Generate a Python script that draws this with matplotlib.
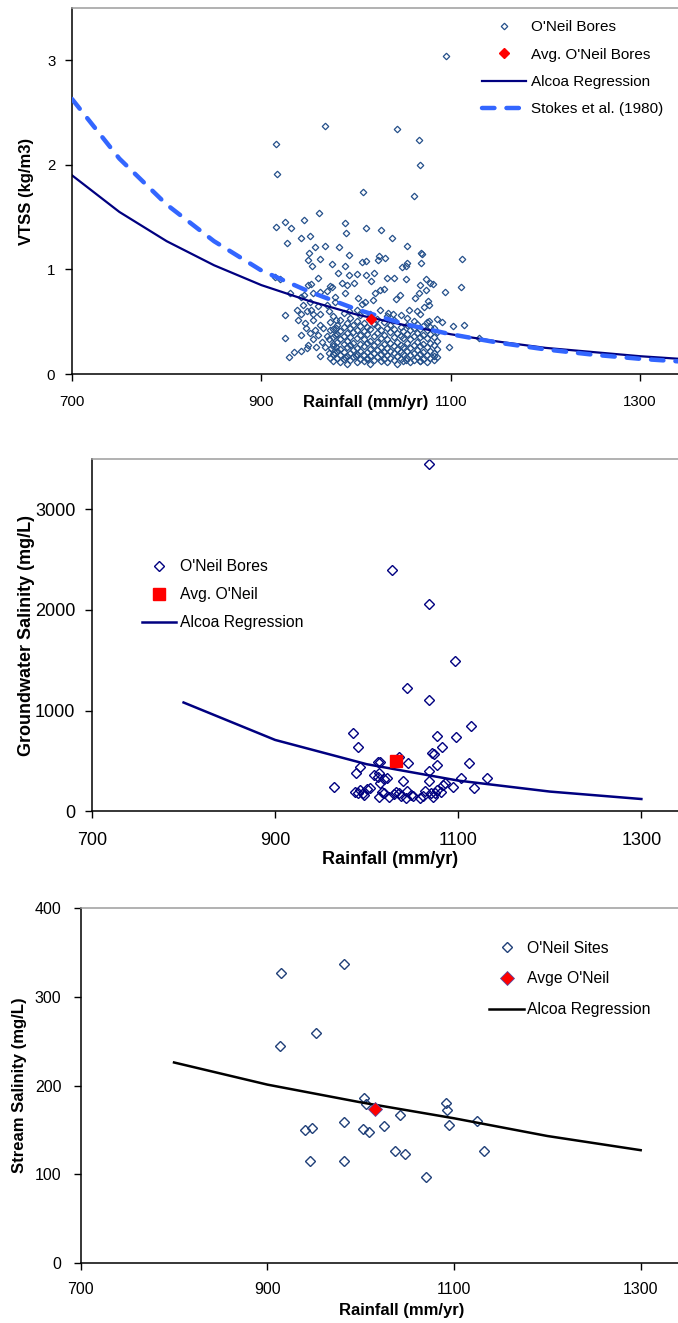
import matplotlib.pyplot as plt

plt.rcParams['font.family'] = ['Liberation Sans', 'DejaVu Sans']

# --- VTSS at the O'Neil bores ---
bore_rain = [
    1095, 967, 915, 917, 1043, 1066, 1067, 1007, 1061, 961, 915, 925, 931, 945,
    988, 989, 1010, 1026, 1038, 1054, 927, 942, 951, 957, 967, 982, 950, 962,
    949, 993, 1070, 1069, 1112, 953, 975, 1006, 1011, 1024, 1031, 1023, 1054,
    1053, 1048, 1069, 988, 981, 993, 1001, 1011, 1019, 1033, 1040, 1053, 1074,
    1067, 1078, 1081, 985, 990, 998, 975, 1016, 1020, 1025, 1029, 1111, 1094,
    1046, 1042, 1066, 1074, 1062, 988, 978, 1002, 1009, 1018, 1006, 1077, 1072,
    1076, 1056, 1064, 1034, 1039, 1025, 1001, 993, 1085, 1091, 1102, 1114, 1077,
    1130, 1098, 1082, 1053, 1067, 1000, 1012, 988,
    914, 920, 960, 949, 952, 972, 930, 945, 955, 962, 969, 978, 942, 951, 944,
    952, 960, 969, 938, 942, 948, 955, 962, 971, 925, 939, 946, 955, 962, 972,
    979, 947, 957, 965, 972, 979, 942, 951, 960, 969, 978, 925, 955, 964, 971,
    976, 949, 958, 967, 974, 979, 934, 942, 948, 929, 962, 971, 972, 978,
    976, 976, 976, 976, 976, 976, 980, 980, 980, 980, 980,
    983, 983, 983, 983, 983, 983, 987, 987, 987, 987, 987, 987,
    990, 990, 990, 990, 990, 990, 994, 994, 994, 994, 994, 994,
    997, 997, 997, 997, 997, 1001, 1001, 1001, 1001, 1001, 1001,
    1004, 1004, 1004, 1004, 1004, 1004, 1008, 1008, 1008, 1008, 1008, 1008,
    1012, 1012, 1012, 1012, 1012, 1015, 1015, 1015, 1015, 1015, 1015,
    1019, 1019, 1019, 1019, 1019, 1022, 1022, 1022, 1022, 1022, 1022,
    1026, 1026, 1026, 1026, 1026, 1029, 1029, 1029, 1029, 1029,
    1033, 1033, 1033, 1033, 1033, 1033, 1036, 1036, 1036, 1036, 1036,
    1040, 1040, 1040, 1040, 1040, 1040, 1043, 1043, 1043, 1043, 1043,
    1047, 1047, 1047, 1047, 1047, 1047, 1050, 1050, 1050, 1050, 1050,
    1054, 1054, 1054, 1054, 1054, 1054, 1057, 1057, 1057, 1057, 1057,
    1061, 1061, 1061, 1061, 1061, 1061, 1064, 1064, 1064, 1064, 1064,
    1068, 1068, 1068, 1068, 1068, 1068, 1071, 1071, 1071, 1071, 1071,
    1075, 1075, 1075, 1075, 1075, 1075, 1078, 1078, 1078, 1078, 1078,
    1082, 1082, 1082, 1082, 1082, 1085, 1085, 1085, 1085,
]
bore_vtss = [
    3.04, 2.37, 2.20, 1.91, 2.34, 2.24, 2.00, 1.74, 1.70, 1.54, 1.41, 1.45, 1.40, 1.47,
    1.44, 1.35, 1.40, 1.38, 1.30, 1.22, 1.25, 1.30, 1.32, 1.21, 1.22, 1.21, 1.16, 1.10,
    1.09, 1.14, 1.15, 1.16, 1.10, 1.03, 1.05, 1.07, 1.08, 1.13, 1.11, 1.09, 1.06,
    1.03, 1.02, 1.06, 1.03, 0.97, 0.95, 0.96, 0.95, 0.97, 0.92, 0.92, 0.91, 0.91,
    0.85, 0.87, 0.86, 0.87, 0.85, 0.87, 0.83, 0.89, 0.77, 0.80, 0.81, 0.83, 0.78,
    0.76, 0.72, 0.77, 0.80, 0.73, 0.77, 0.74, 0.73, 0.69, 0.71, 0.67, 0.66, 0.64,
    0.70, 0.61, 0.60, 0.58, 0.57, 0.61, 0.61, 0.60, 0.53, 0.50, 0.46, 0.47, 0.51,
    0.34, 0.26, 0.17, 0.13, 0.12, 0.17, 0.14, 0.16,
    0.93, 0.91, 0.92, 0.85, 0.86, 0.84, 0.77, 0.76, 0.77, 0.78, 0.79, 0.69, 0.74, 0.69, 0.66,
    0.61, 0.65, 0.66, 0.61, 0.57, 0.60, 0.57, 0.57, 0.60, 0.56, 0.52, 0.49, 0.52, 0.47, 0.50,
    0.52, 0.44, 0.42, 0.44, 0.42, 0.44, 0.37, 0.39, 0.37, 0.36, 0.37, 0.34, 0.33, 0.31, 0.33,
    0.29, 0.28, 0.26, 0.26, 0.25, 0.26, 0.21, 0.22, 0.25, 0.16, 0.17, 0.20, 0.15, 0.20,
    0.12, 0.19, 0.27, 0.35, 0.43, 0.55, 0.15, 0.22, 0.31, 0.38, 0.47,
    0.11, 0.18, 0.24, 0.33, 0.41, 0.52, 0.14, 0.21, 0.29, 0.36, 0.45, 0.58,
    0.10, 0.17, 0.26, 0.32, 0.39, 0.49, 0.13, 0.20, 0.28, 0.35, 0.44, 0.54,
    0.16, 0.23, 0.30, 0.40, 0.47, 0.11, 0.19, 0.25, 0.34, 0.42, 0.51,
    0.14, 0.22, 0.29, 0.37, 0.46, 0.56, 0.12, 0.18, 0.27, 0.33, 0.41, 0.49,
    0.15, 0.21, 0.30, 0.38, 0.45, 0.10, 0.17, 0.24, 0.32, 0.43, 0.57,
    0.13, 0.20, 0.28, 0.36, 0.48, 0.16, 0.23, 0.31, 0.39, 0.46, 0.53,
    0.12, 0.19, 0.26, 0.34, 0.42, 0.14, 0.21, 0.29, 0.37, 0.50,
    0.11, 0.18, 0.25, 0.33, 0.44, 0.55, 0.15, 0.22, 0.30, 0.40, 0.47,
    0.13, 0.20, 0.27, 0.35, 0.43, 0.52, 0.10, 0.17, 0.24, 0.31, 0.39,
    0.14, 0.21, 0.28, 0.36, 0.45, 0.56, 0.12, 0.19, 0.26, 0.34, 0.41,
    0.15, 0.22, 0.30, 0.38, 0.47, 0.54, 0.11, 0.18, 0.25, 0.33, 0.42,
    0.13, 0.20, 0.28, 0.36, 0.44, 0.51, 0.16, 0.23, 0.31, 0.39, 0.48,
    0.12, 0.19, 0.27, 0.35, 0.43, 0.57, 0.14, 0.21, 0.29, 0.37, 0.46,
    0.11, 0.18, 0.26, 0.34, 0.42, 0.50, 0.15, 0.22, 0.30, 0.38, 0.45,
    0.13, 0.20, 0.28, 0.35, 0.44, 0.16, 0.24, 0.32, 0.40,
]
avg_bore_rain, avg_bore_vtss = 1016, 0.53

curve_rain = [700, 750, 800, 850, 900, 950, 1000, 1050, 1100, 1150, 1200, 1250, 1300, 1350]
alcoa_vtss = [1.90, 1.55, 1.27, 1.04, 0.85, 0.70, 0.57, 0.47, 0.38, 0.31, 0.25, 0.21, 0.17, 0.14]
stokes_vtss = [2.63, 2.06, 1.62, 1.27, 0.99, 0.79, 0.62, 0.48, 0.38, 0.30, 0.235, 0.185, 0.145, 0.115]

# --- groundwater salinity ---
gw_rain = [
    1068, 1028, 1068, 1096, 1044, 1068, 985, 1114, 1077, 1097, 991, 1082, 1071, 1073,
    1035, 1012, 1014, 1045, 1077, 1112, 993, 988, 1068, 1008, 1013, 1012, 1019, 1022,
    1040, 1068, 1131, 1103, 1015, 964, 1004, 1000, 1086, 1094, 1117, 987, 993, 1017,
    1032, 1035, 1044, 1048, 1064, 1070, 1077, 1083, 997, 990, 1013, 1024, 1030, 1043,
    1051, 1062, 1072, 1075, 1081, 996, 1019, 1038, 1058,
]
gw_sal = [
    3446, 2394, 2056, 1496, 1220, 1107, 782, 849, 752, 739, 643, 643, 575, 565,
    543, 490, 486, 484, 461, 478, 444, 378, 401, 361, 378, 344, 318, 328,
    305, 305, 335, 328, 278, 239, 229, 226, 278, 245, 235, 195, 212, 195,
    195, 179, 205, 162, 205, 179, 212, 262, 162, 185, 145, 139, 169, 129,
    152, 152, 145, 179, 195, 179, 179, 150, 133,
]
avg_gw_rain, avg_gw_sal = 1032, 503

gw_curve_rain = [800, 900, 1000, 1100, 1200, 1300]
alcoa_gw = [1081, 709, 468, 305, 196, 122]

# --- stream salinity ---
site_rain = [915, 914, 952, 940, 948, 946, 982, 982, 982, 1004, 1006, 1002, 1009, 1025,
             1042, 1037, 1047, 1070, 1091, 1093, 1095, 1125, 1132]
site_sal = [327, 245, 259, 150, 152, 115, 337, 159, 115, 186, 179, 151, 147, 154,
            167, 126, 123, 97, 180, 172, 155, 160, 126]
avg_site_rain, avg_site_sal = 1015, 174

st_curve_rain = [800, 900, 1000, 1100, 1200, 1300]
alcoa_st = [226, 201, 181, 163, 143, 127]

W, H = 678, 1323
fig = plt.figure(figsize=(W / 100, H / 100), dpi=100)


def box(left, top, right, bottom):
    return [left / W, 1 - bottom / H, (right - left) / W, (bottom - top) / H]


def style(ax, yticks, fs, padx, pady):
    ax.set_xlim(700, 1340)
    ax.set_xticks([700, 900, 1100, 1300])
    ax.set_yticks(yticks)
    ax.spines['right'].set_visible(False)
    ax.spines['top'].set_color('#9c9c9c')
    ax.spines['top'].set_linewidth(1.1)
    ax.spines['left'].set_linewidth(1.1)
    ax.spines['bottom'].set_linewidth(1.1)
    ax.tick_params(direction='out', length=5, width=1.0, labelsize=fs, colors='black')
    ax.tick_params(axis='x', pad=padx)
    ax.tick_params(axis='y', pad=pady)


# top: VTSS
ax1 = fig.add_axes(box(72, 8, 678, 374))
ax1.plot(bore_rain, bore_vtss, ls='none', marker='D', ms=3.3, mfc='none',
         mec='#24508a', mew=0.9, label="O'Neil Bores")
ax1.plot([avg_bore_rain], [avg_bore_vtss], ls='none', marker='D', ms=5.4,
         color='red', mec='red', label="Avg. O'Neil Bores", zorder=4)
ax1.plot(curve_rain, alcoa_vtss, color='#000080', lw=1.6, label='Alcoa Regression')
ax1.plot(curve_rain, stokes_vtss, color='#3366ff', lw=3.2, dashes=(2.8, 2.7),
         dash_capstyle='round', label='Stokes et al. (1980)', zorder=3)
ax1.set_ylim(0, 3.5)
style(ax1, [0, 1, 2, 3], 10.8, 10, 7)
ax1.set_ylabel('VTSS (kg/m3)', fontsize=12, fontweight='bold')
ax1.yaxis.set_label_coords(-0.062, 0.5)
ax1.set_xlabel('Rainfall (mm/yr)', fontsize=12, fontweight='bold')
ax1.xaxis.set_label_coords(0.485, -0.058)
ax1.legend(loc='upper left', bbox_to_anchor=(0.676, 0.967), frameon=False, fontsize=11,
           handlelength=2.9, handletextpad=0.33, labelspacing=0.88, borderpad=0,
           borderaxespad=0, numpoints=1)

# middle: groundwater salinity
ax2 = fig.add_axes(box(92, 459, 678, 811.3))
ax2.plot(gw_rain, gw_sal, ls='none', marker='D', ms=4.6, mfc='none',
         mec='#000080', mew=1.0, label="O'Neil Bores")
ax2.plot([avg_gw_rain], [avg_gw_sal], ls='none', marker='s', ms=8.2,
         color='red', mec='red', label="Avg. O'Neil", zorder=4)
ax2.plot(gw_curve_rain, alcoa_gw, color='#000080', lw=1.8, label='Alcoa Regression')
ax2.set_ylim(0, 3500)
style(ax2, [0, 1000, 2000, 3000], 13, 10, 7)
ax2.set_ylabel('Groundwater Salinity (mg/L)', fontsize=13, fontweight='bold')
ax2.yaxis.set_label_coords(-0.097, 0.5)
ax2.set_xlabel('Rainfall (mm/yr)', fontsize=13, fontweight='bold')
ax2.xaxis.set_label_coords(0.509, -0.113)
ax2.legend(loc='upper left', bbox_to_anchor=(0.085, 0.715), frameon=False, fontsize=11.3,
           handlelength=2.2, handletextpad=0.21, labelspacing=0.82, borderpad=0,
           borderaxespad=0, numpoints=1)

# bottom: stream salinity
ax3 = fig.add_axes(box(80.7, 908.3, 678, 1262.7))
ax3.plot(site_rain, site_sal, ls='none', marker='D', ms=5.0, mfc='none',
         mec='#203f78', mew=1.0, label="O'Neil Sites")
ax3.plot([avg_site_rain], [avg_site_sal], ls='none', marker='D', ms=6.8,
         color='red', mec='#5a4aa0', mew=0.6, label="Avge O'Neil", zorder=4)
ax3.plot(st_curve_rain, alcoa_st, color='black', lw=1.8, label='Alcoa Regression')
ax3.set_ylim(0, 400)
style(ax3, [0, 100, 200, 300, 400], 11.5, 9, 9)
ax3.set_ylabel('Stream Salinity (mg/L)', fontsize=12, fontweight='bold')
ax3.yaxis.set_label_coords(-0.09, 0.5)
ax3.set_xlabel('Rainfall (mm/yr)', fontsize=12, fontweight='bold')
ax3.xaxis.set_label_coords(0.538, -0.113)
ax3.legend(loc='upper left', bbox_to_anchor=(0.684, 0.909), frameon=False, fontsize=11.3,
           handlelength=2.2, handletextpad=0.21, labelspacing=1.01, borderpad=0,
           borderaxespad=0, numpoints=1)

fig.savefig('out.png', dpi=100)
